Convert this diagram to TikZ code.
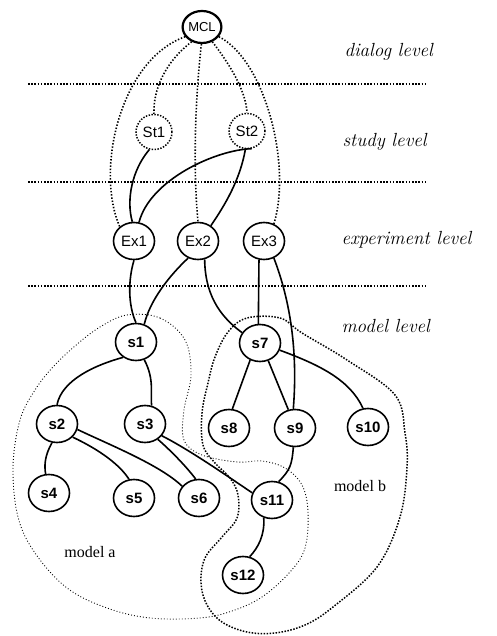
\documentclass[tikz,border=0pt]{standalone}
\usepackage{fontspec}
\newfontfamily\nodefont{Liberation Sans}
\newfontfamily\serfont{Liberation Serif}
\usetikzlibrary{shapes.geometric}
\begin{document}
\begin{tikzpicture}[x=1pt,y=-1pt,
  nd/.style={draw, ellipse, inner sep=0pt, minimum width=41pt, minimum height=37pt,
    line width=1.6pt, font=\nodefont\fontsize{15}{15}\selectfont},
  snd/.style={nd, font=\nodefont\bfseries\fontsize{15}{15}\selectfont},
  stnd/.style={nd, minimum width=36pt, minimum height=35pt, line width=1.5pt,
    dash pattern=on 1.4pt off 1.5pt},
  mclnd/.style={nd, minimum width=37pt, minimum height=32pt, line width=2.2pt,
    font=\nodefont\fontsize{13}{13}\selectfont},
  lvl/.style={line width=1.7pt, dash pattern=on 1.6pt off 1.6pt},
  dotc/.style={line width=1.6pt, dash pattern=on 1.4pt off 1.8pt},
  con/.style={line width=1.6pt},
  lvltext/.style={anchor=west, font=\itshape\fontsize{19}{19}\selectfont},
  modtext/.style={font=\serfont\fontsize{16}{16}\selectfont},
  moda/.style={line width=0.9pt, dash pattern=on 0.9pt off 2.1pt},
  modb/.style={line width=1.5pt, dash pattern=on 1.5pt off 1.5pt}
]
\useasboundingbox (0,0) rectangle (496,636);

% level separators
\draw[lvl] (28,84) -- (427,84);
\draw[lvl] (28,182) -- (427,182);
\draw[lvl] (28,286) -- (427,286);

% level labels
\node[lvltext] (tdialog) at (341,52) {dialog level};
\node[lvltext] (tstudy) at (339,142) {study level};
\node[lvltext] (texp) at (338,240) {experiment level};
\node[lvltext] (tmodel) at (338,326) {model level};

% model regions
\draw[moda] plot[smooth cycle, tension=0.6] coordinates {
 (127,315) (160,318) (185,340) (191,375) (184,410) (184,440) (202,455) (237,462)
 (262,461) (285,468) (302,485) (308,512) (305,548) (290,572) (262,597) (232,611)
 (200,618) (150,618) (107,608) (67,588) (35,553) (18,517) (13,467) (20,420)
 (35,390) (53,367) (75,346) (100,327)};
\draw[modb] plot[smooth cycle, tension=0.6] coordinates {
 (247,318) (280,318) (302,333) (347,360) (395,395) (405,433) (407,467) (400,517)
 (377,567) (333,607) (305,625) (275,633) (247,632) (222,622) (207,605) (201,583)
 (205,558) (222,537) (237,518) (238,495) (230,478) (215,463) (203,445) (202,413)
 (208,383) (215,357) (228,332)};

\node[modtext] (ma) at (90,552) {model a};
\node[modtext] (mb) at (360,486) {model b};

% nodes
\node[mclnd] (MCL) at (202,27) {MCL};
\node[stnd] (St1) at (154,132) {St1};
\node[stnd] (St2) at (247,131) {St2};
\node[nd] (Ex1) at (134,241) {Ex1};
\node[nd] (Ex2) at (198,241) {Ex2};
\node[nd] (Ex3) at (264,241) {Ex3};
\node[snd] (s1) at (136,342) {s1};
\node[snd] (s7) at (260,343) {s7};
\node[snd] (s2) at (57,424) {s2};
\node[snd] (s3) at (145,424) {s3};
\node[snd] (s8) at (229,428) {s8};
\node[snd] (s9) at (295,428) {s9};
\node[snd] (s10) at (368,427) {s10};
\node[snd] (s4) at (49,493) {s4};
\node[snd] (s5) at (134,498) {s5};
\node[snd] (s6) at (199,498) {s6};
\node[snd] (s11) at (272,500) {s11};
\node[snd] (s12) at (243,575) {s12};

% dotted connectors from MCL
\draw[dotc] (MCL.210) .. controls (120,60) and (95,170) .. (Ex1.135);
\draw[dotc] (MCL.330) .. controls (265,60) and (292,165) .. (Ex3.60);
\draw[dotc] (MCL.235) .. controls (165,62) and (153,90) .. (St1.north);
\draw[dotc] (MCL.305) .. controls (228,62) and (246,90) .. (St2.north);
\draw[dotc] (MCL.268) .. controls (195,100) and (193,170) .. (Ex2.north);

% solid connectors
\draw[con] (St1.255) .. controls (132,170) and (126,200) .. (Ex1.95);
\draw[con] (St2.285) .. controls (215,150) and (150,180) .. (Ex1.75);
\draw[con] (St2.265) .. controls (240,180) and (225,205) .. (Ex2.50);
\draw[con] (Ex1.south) .. controls (128,280) and (128,305) .. (s1.north);
\draw[con] (Ex2.240) .. controls (170,275) and (150,300) .. (s1.65);
\draw[con] (Ex2.290) .. controls (205,300) and (225,320) .. (s7.150);
\draw[con] (Ex3.255) -- (s7.95);
\draw[con] (Ex3.300) .. controls (290,300) and (298,350) .. (s9.95);
\draw[con] (s1.230) .. controls (95,365) and (62,380) .. (s2.north);
\draw[con] (s1.295) .. controls (155,380) and (150,395) .. (s3.70);
\draw[con] (s7.240) -- (s8.80);
\draw[con] (s7.295) -- (s9.110);
\draw[con] (s7.340) .. controls (320,365) and (350,380) .. (s10.105);
\draw[con] (s2.255) .. controls (45,455) and (44,465) .. (s4.100);
\draw[con] (s2.320) .. controls (100,450) and (120,465) .. (s5.105);
\draw[con] (s2.345) .. controls (110,445) and (160,465) .. (s6.145);
\draw[con] (s3.310) .. controls (170,450) and (185,465) .. (s6.100);
\draw[con] (s3.325) .. controls (190,450) and (230,478) .. (s11.160);
\draw[con] (s9.265) .. controls (292,465) and (290,470) .. (s11.70);
\draw[con] (s11.245) .. controls (265,535) and (258,548) .. (s12.70);
\end{tikzpicture}
\end{document}
